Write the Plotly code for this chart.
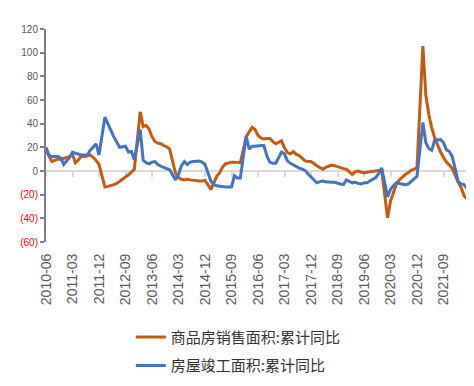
import plotly.graph_objects as go
import pandas as pd

# Monthly categories 2010-06 .. 2022-05
months = [p.strftime("%Y-%m") for p in pd.period_range("2010-06", "2022-05", freq="M")]

# 商品房销售面积:累计同比 (%), January not published -> None
sales = [
    17.5, 12, 8, 9, 10, 10, 10.5,                                   # 2010 Jun-Dec
    None, 12, 14, 7, 9.5, 12.5, 12, 13, 13.5, 11.5, 9, 5.5,          # 2011
    None, -13.5, -13, -12.5, -11.5, -10.5, -9, -7, -5, -3.5, -1, 1.5,  # 2012
    None, 50, 37.5, 38.5, 35.5, 29, 25, 23.5, 23, 21.5, 20.5, 18.5,  # 2013
    None, -2, -5.5, -7, -7.5, -7, -7.5, -8, -8.5, -8.5, -8.5, -8,    # 2014
    None, -15.5, -9.5, -4.5, -1.5, 3.5, 6, 7, 7.5, 7.5, 7.5, 7,      # 2015
    None, 29, 33.5, 37, 35, 30, 28, 27, 27.5, 27.5, 25, 23,          # 2016
    None, 25.5, 19.5, 15.5, 14.5, 16.5, 14, 13, 10.5, 8.5, 8, 8,     # 2017
    None, 4.5, 3, 1.5, 3, 4, 5, 4.5, 3.5, 3, 2, 1.5,                 # 2018
    None, -3, -0.5, 0, -1, -1.5, -1, -0.5, 0, 0.5, 0.5, 0.5,         # 2019
    None, -39.5, -25.5, -18, -11, -7.5, -5, -3, -1.5, 0.5, 1.5, 3,   # 2020
    None, 105.5, 64, 48, 36.5, 28, 21.5, 16, 11.5, 7.5, 5, 2,        # 2021
    None, -9.5, -14, -21, -23.5,                                     # 2022 Jan-May
]

# 房屋竣工面积:累计同比 (%)
completion = [
    20, 13.5, 12, 12, 12.5, 11, 5.5,                                 # 2010
    None, 11.5, 16, 15, 14, 13.5, 13.5, 13.5, 17.5, 20, 23, 13.5,    # 2011
    None, 45.5, 40, 34, 29, 24.5, 20, 20.5, 21, 16, 16.5, 9.5,       # 2012
    None, 35, 9, 7, 6, 7.5, 8, 5.5, 4, 3, 2.5, 1,                    # 2013
    None, -7.5, -3, 4.5, 8, 5.5, 7.5, 8, 8, 8.5, 7.5, 5.5,           # 2014
    None, -8.5, -11.5, -12.5, -13, -13.5, -13.5, -13.5, -13.5, -4, -6, -6,  # 2015
    None, 29.5, 18.5, 21, 21, 21.5, 21.5, 21.5, 13, 7.5, 6.5, 6.5,   # 2016
    None, 16, 14.5, 8.5, 6.5, 5, 3.5, 2.5, 1.5, 0.5, -2.5, -5,       # 2017
    None, -10, -9, -8.5, -9, -9.5, -9.5, -9.5, -10.5, -11, -11.5, -7.5,  # 2018
    None, -10, -9.5, -10.5, -11, -10, -10, -8.5, -7, -5.5, -2, 2.6,  # 2019
    None, -22, -15.5, -12.5, -10, -10.5, -11, -11.5, -11, -9, -7, -4.5,  # 2020
    None, 41, 24, 19, 17.5, 26, 26.5, 26.5, 24, 18, 16.5, 12,        # 2021
    None, -9, -11, -11.5, -15,                                       # 2022
]

series_names = ["商品房销售面积:累计同比", "房屋竣工面积:累计同比"]
series_colors = ["#C55A11", "#4472C4"]

y_tickvals = [-60, -40, -20, 0, 20, 40, 60, 80, 100, 120]
y_ticktext = ['<span style="color:#FF0000">(60)</span>',
              '<span style="color:#FF0000">(40)</span>',
              '<span style="color:#FF0000">(20)</span>',
              '0', '20', '40', '60', '80', '100', '120']

x_idx = list(range(len(months)))
label_step = 9
tick_idx = x_idx[::label_step]
tick_text = [months[i] for i in tick_idx]
zero_ticks = list(range(0, len(months) + 1, label_step))

fig = go.Figure()
fig.add_trace(go.Scatter(
    x=x_idx, y=sales, name=series_names[0], mode="lines",
    line=dict(color=series_colors[0], width=3), connectgaps=True,
    xaxis="x", yaxis="y", legendgroup="a", hoverinfo="skip"))
fig.add_trace(go.Scatter(
    x=x_idx, y=completion, name=series_names[1], mode="lines",
    line=dict(color=series_colors[1], width=3), connectgaps=True,
    xaxis="x2", yaxis="y", legendgroup="b", hoverinfo="skip"))

fig.update_layout(
    width=474, height=386,
    margin=dict(l=35, r=12, t=21, b=141),
    paper_bgcolor="white", plot_bgcolor="white",
    showlegend=True,
    xaxis=dict(
        range=[0, 144], anchor="free", position=1/3,
        showline=True, linecolor="#D9D9D9", linewidth=2,
        ticks="outside", ticklen=5, tickwidth=2, tickcolor="#D9D9D9",
        tickmode="array", tickvals=zero_ticks, showticklabels=False,
        showgrid=False, zeroline=False, layer="below traces"),
    xaxis2=dict(
        range=[0, 144], overlaying="x", anchor="y", side="bottom",
        showline=False, ticks="", tickmode="array", tickvals=tick_idx,
        ticktext=tick_text, tickangle=-90, ticklabelstandoff=8,
        tickfont=dict(family="Liberation Sans", size=14, color="#595959"),
        showgrid=False, zeroline=False),
    yaxis=dict(
        range=[-60, 120], tickmode="array", tickvals=y_tickvals, ticktext=y_ticktext,
        showline=True, linecolor="#7F7F7F", linewidth=2,
        ticks="outside", ticklen=4, tickwidth=2, tickcolor="#7F7F7F",
        tickfont=dict(family="Liberation Sans", size=10, color="#595959"),
        showgrid=False, zeroline=False),
    legend=dict(
        x=0.2, y=-0.37, xanchor="left", yanchor="top",
        traceorder="grouped", tracegroupgap=6,
        font=dict(family="Noto Sans CJK SC", size=15, color="#333333"),
        bgcolor="rgba(0,0,0,0)"),
)

fig.write_html("out.html")
